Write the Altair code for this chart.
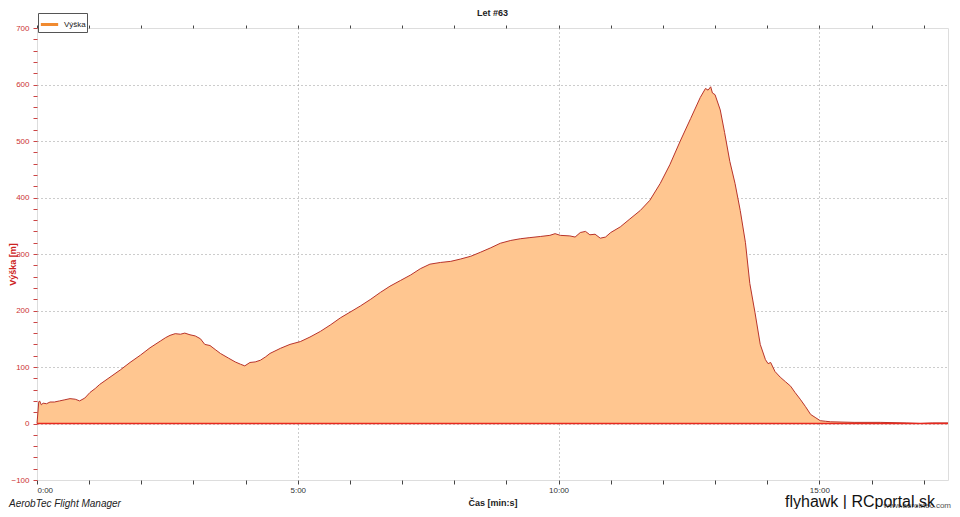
import altair as alt
import pandas as pd

# flight time in seconds and altitude in metres
time_s = [0, 2, 3, 5, 7, 11, 15, 20, 26, 32, 38, 44, 49, 55, 61, 67, 72, 84, 96, 107, 119, 130,
          142, 148, 153, 159, 165, 170, 176, 182, 188, 193, 199, 205, 211, 220, 228, 234, 239,
          245, 251, 257, 263, 268, 280, 291, 303, 314, 326, 338, 349, 360, 372, 384, 395, 406,
          418, 430, 441, 452, 464, 476, 487, 499, 510, 522, 533, 545, 556, 567, 579, 590, 596,
          602, 613, 619, 625, 631, 636, 642, 648, 654, 660, 671, 682, 694, 705, 717, 728, 740,
          752, 763, 769, 772, 775, 777, 780, 786, 791, 797, 803, 809, 815, 820, 826, 832, 838,
          841, 844, 849, 855, 861, 867, 872, 878, 884, 890, 896, 901, 907, 913, 940, 970, 1000,
          1016, 1030, 1048]
altitude = [0, 38, 40, 33, 36, 35, 38, 38, 40, 42, 44, 43, 40, 45, 55, 62, 69, 82, 95, 108, 121, 134,
            146, 152, 156, 159, 158, 160, 157, 155, 150, 140, 138, 131, 124, 116, 109, 105, 102,
            108, 109, 112, 118, 124, 133, 140, 145, 153, 163, 175, 187, 197, 208, 220, 232, 243,
            253, 263, 274, 282, 285, 287, 291, 296, 303, 311, 319, 324, 327, 329, 331, 333, 336,
            333, 332, 330, 338, 340, 334, 335, 328, 330, 338, 348, 362, 377, 395, 425, 458, 500,
            540, 577, 593, 590, 596, 585, 582, 555, 515, 464, 425, 377, 320, 248, 196, 140, 113,
            106, 108, 92, 82, 74, 66, 55, 43, 30, 16, 10, 5, 4, 3, 2, 2, 1, 0, 1, 1]

x_ticks = list(range(0, 1081, 60))
y_ticks = list(range(-100, 701, 20))

df = pd.DataFrame({"t": time_s, "alt": altitude, "serie": ["Výška"] * len(time_s)})

FONT = "Liberation Sans"
W, H = 911, 452

x_scale = alt.Scale(domain=[0, 1048], nice=False, zero=False)
y_scale = alt.Scale(domain=[-100, 700], nice=False)

x_axis = alt.Axis(
    values=x_ticks, tickCount=len(x_ticks), labelOverlap=False,
    title="Čas [min:s]",
    titleFontSize=9, titleFont=FONT, titleFontWeight="bold", titleColor="#222222",
    titlePadding=4,
    labelExpr="datum.value % 300 === 0 ? (floor(datum.value/60) + ':' + (datum.value % 60 < 10 ? '0' : '') + (datum.value % 60)) : ''",
    labelFontSize=8, labelFont=FONT, labelColor="#333333", labelPadding=2,
    tickSize=4, tickColor="#444444", domain=False,
    grid=True, gridDash=[1, 3], gridColor="#999999",
    gridOpacity={"condition": {"test": "datum.value % 300 === 0 && datum.value > 0", "value": 1}, "value": 0},
)

y_axis = alt.Axis(
    values=y_ticks, tickCount=len(y_ticks), labelOverlap=False,
    title="Výška [m]",
    titleFontSize=9, titleFont=FONT, titleFontWeight="bold", titleColor="#cc2222",
    titleX=-20, titleY=236,
    labelExpr="datum.value % 100 === 0 ? datum.label : ''",
    labelFontSize=8, labelFont=FONT, labelColor="#cc3333", labelPadding=4,
    tickSize=4, tickColor="#cc4444", domain=False,
    grid=True, gridDash=[1, 3], gridColor="#999999",
    gridOpacity={"condition": {"test": "datum.value % 100 === 0 && datum.value > -100 && datum.value < 700", "value": 1}, "value": 0},
)

area = alt.Chart(df).mark_area(
    color="#FFC690", opacity=1, line={"stroke": "#B8332A", "strokeWidth": 1}, interpolate="linear"
).encode(
    x=alt.X("t:Q", scale=x_scale, axis=x_axis),
    y=alt.Y("alt:Q", scale=y_scale, axis=y_axis),
)

legend_layer = alt.Chart(df).mark_line(strokeOpacity=0).encode(
    x=alt.X("t:Q", scale=x_scale, axis=None),
    y=alt.Y("alt:Q", scale=y_scale),
    stroke=alt.Stroke("serie:N", scale=alt.Scale(range=["#F08A30"]),
                      legend=alt.Legend(title=None, orient="none", legendX=1, legendY=-15,
                                        symbolType="stroke", symbolStrokeWidth=3, symbolSize=300,
                                        symbolOpacity=1,
                                        labelFontSize=8, labelFont=FONT, labelColor="#222222",
                                        strokeColor="#555555", padding=1, rowPadding=0,
                                        fillColor="white", labelOffset=4)),
)

zero = alt.Chart(pd.DataFrame({"z": [0]})).mark_rule(stroke="#E8281E", color="#E8281E", strokeWidth=1.5).encode(
    y=alt.Y("z:Q", scale=y_scale)
)

top_ticks = alt.Chart(pd.DataFrame({"t": [0]})).mark_rule(opacity=0).encode(
    x=alt.X("t:Q", scale=x_scale,
            axis=alt.Axis(orient="top", values=x_ticks, tickCount=len(x_ticks), labels=False,
                          title=None, domain=False, tickSize=3, tickColor="#444444", grid=False))
)

texts = pd.DataFrame({"a": [0]})
title = alt.Chart(texts).mark_text(
    text="Let #63", font=FONT, fontSize=9, fontWeight="bold", align="center",
    baseline="middle", color="#222222"
).encode(x=alt.value(W / 2), y=alt.value(-15))
brand = alt.Chart(texts).mark_text(
    text="AerobTec Flight Manager", font=FONT, fontSize=10, fontStyle="italic",
    align="left", baseline="alphabetic", color="#222222"
).encode(x=alt.value(-28), y=alt.value(H + 27))
site = alt.Chart(texts).mark_text(
    text="www.aerobtec.com", font=FONT, fontSize=8, align="right",
    baseline="alphabetic", color="#555555"
).encode(x=alt.value(W + 3), y=alt.value(H + 28))
sign = alt.Chart(texts).mark_text(
    text="flyhawk | RCportal.sk", font=FONT, fontSize=16, align="right",
    baseline="alphabetic", color="#111111"
).encode(x=alt.value(W - 13), y=alt.value(H + 27))

chart = alt.layer(area, legend_layer, zero, top_ticks, title, brand, site, sign).resolve_axis(
    x="independent"
).properties(
    width=W, height=H,
    autosize=alt.AutoSizeParams(type="none"),
    padding={"left": 29, "top": 20, "right": 4, "bottom": 29},
).configure_view(stroke="#808080", strokeWidth=1.5).configure(background="white")

chart.save("out.html", embed_options={"renderer": "svg", "actions": False})
